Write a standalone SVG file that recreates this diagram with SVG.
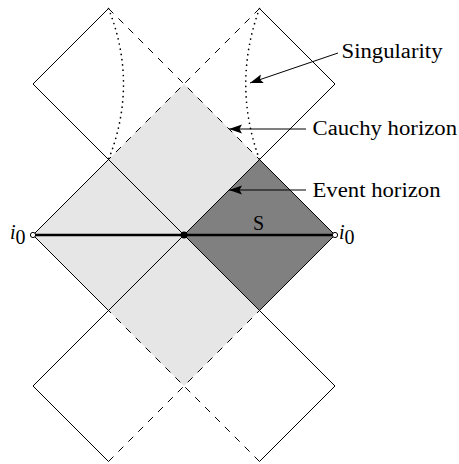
<svg xmlns="http://www.w3.org/2000/svg" width="459" height="464" viewBox="0 0 459 464">
<style>
.ln{stroke:#000;stroke-width:1;fill:none}
.da{stroke:#000;stroke-width:1;fill:none;stroke-dasharray:7 7}
.dot{stroke:#000;stroke-width:1.7;fill:none;stroke-dasharray:0 5.3;stroke-linecap:round}
.lbl{font-family:"Liberation Serif","DejaVu Serif",serif;font-size:20px;fill:#000}
.it{font-family:"Liberation Serif","DejaVu Serif",serif;font-style:italic;font-size:20px;fill:#000}
.arr{stroke:#000;stroke-width:1;fill:none;marker-end:url(#ah)}
</style>
<defs>
<marker id="ah" markerUnits="userSpaceOnUse" markerWidth="15" markerHeight="10" refX="13" refY="0" viewBox="0 -5 15 10" orient="auto">
<path d="M0,-4.5 L13,0 L0,4.5 L2.5,0 z" fill="#000"/>
</marker>
</defs>
<g id="regions">
<polygon id="exterior-light" points="33,235 108.5,159.5 184,84 259.5,159.5 184,235 259.5,310.5 184,386 108.5,310.5" fill="#e6e6e6"/>
<polygon id="region-S" points="184,235 259.5,159.5 335,235 259.5,310.5" fill="#808080"/>
</g>
<g id="lines">
<path class="ln" d="M33,84 L335,386 M33,386 L335,84 M33,235 L108.5,159.5 M33,235 L108.5,310.5 M335,235 L259.5,159.5 M335,235 L259.5,310.5 M33,84 L108.5,8.5 M259.5,8.5 L335,84 M33,386 L108.5,461.5 M259.5,461.5 L335,386"/>
<path class="da" d="M108.5,8.5 L259.5,159.5 M259.5,8.5 L108.5,159.5 M108.5,461.5 L259.5,310.5 M259.5,461.5 L108.5,310.5"/>
<path class="dot" d="M108.5,8.5 Q138.5,84 108.5,159.5"/>
<path class="dot" d="M259.5,8.5 Q232,84 259.5,159.5"/>
<line x1="33" y1="235" x2="335" y2="235" stroke="#000" stroke-width="2.6"/>
</g>
<g id="center-point"><circle cx="184" cy="235" r="3.5" fill="#000"/></g>
<g id="i0-left">
<circle cx="33" cy="235" r="2.6" fill="#fff" stroke="#000" stroke-width="1"/>
<text class="it" x="10" y="239">i<tspan class="lbl" font-style="normal" font-size="11px" dy="5">0</tspan></text>
</g>
<g id="i0-right">
<circle cx="335" cy="235" r="2.6" fill="#fff" stroke="#000" stroke-width="1"/>
<text class="it" x="339" y="239">i<tspan class="lbl" font-style="normal" font-size="11px" dy="5">0</tspan></text>
</g>
<g id="label-S"><text class="lbl" x="253" y="230">S</text></g>
<g id="label-singularity"><text class="lbl" x="341.5" y="58" textLength="101" lengthAdjust="spacingAndGlyphs">Singularity</text></g>
<g id="label-cauchy"><text class="lbl" x="312.5" y="135" textLength="144.5" lengthAdjust="spacingAndGlyphs">Cauchy horizon</text></g>
<g id="label-event"><text class="lbl" x="312.5" y="197" textLength="128" lengthAdjust="spacingAndGlyphs">Event horizon</text></g>
<g id="connectors">
<line class="arr" x1="338" y1="53" x2="250" y2="83"/>
<line class="arr" x1="306" y1="129" x2="229" y2="129"/>
<line class="arr" x1="306" y1="190" x2="229" y2="190"/>
</g>
</svg>
